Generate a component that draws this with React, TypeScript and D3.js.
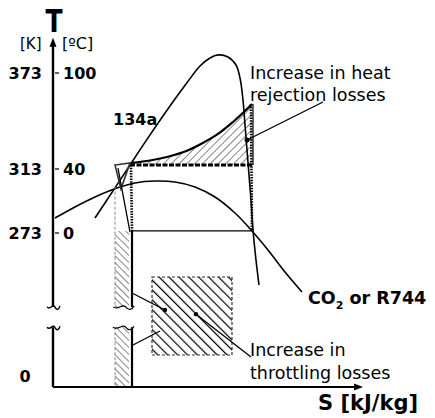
import React from "react";
import * as d3 from "d3";

const W = 435;
const H = 418;

// Temperature ticks (Kelvin on the left, Celsius on the right)
const tickK = [373, 313, 273];
const tickC = ["100", "40", "0"];
const axisTopT = 395;
const axisMaxS = 310;
const breakLowT = 106;
const breakHighT = 142;

// R134a saturation dome (entropy in arbitrary units, T in K)
const r134aS = [42, 60, 77, 97, 117, 133, 147, 157, 165, 175, 183, 187, 190, 192, 194, 196, 198, 200, 203, 206];
const r134aT = [282.4, 299.3, 315.5, 334.3, 352.4, 366.1, 377.4, 382.4, 384.3, 383, 378, 369.9, 356.1, 340.5, 324.9, 309.3, 293.6, 274.9, 225.1, 180.8];

// CO2 (R744) saturation dome
const co2S = [2, 22, 42, 64, 82, 102, 122, 142, 162, 182, 199, 215, 232, 249];
const co2T = [282.4, 289.3, 295.5, 301.1, 304.3, 305.5, 304.9, 301.8, 295.5, 285.5, 274.3, 242.9, 203.9, 168.4];

// Heat-rejection loss area (upper boundary)
const heatS = [79, 97, 114, 132, 147, 165, 180, 192, 199];
const heatT = [316.8, 318.3, 320.5, 323.9, 328.3, 334.9, 342.4, 349.3, 353.6];
const condT = 315.5;
const condS = [77, 199];
const evapT = 274.3;
const evapS = [80, 199];

// Small throttling triangle near the condenser outlet
const triS = [62, 77, 68];
const triT = [315.5, 316.8, 300.6];
const throttleLineS = [65, 77];
const throttleLineT = [313.6, 273.6];

// Narrow throttling-loss strip and its enlarged square
const stripS = [62, 76];
const stripEdgeS = 79;
const stripT = [0, 274.3];
const stripGuideT = [302, 274.3];
const squareS = [99, 179];
const squareT = [56.7, 195];

// Leader lines [s1, T1, s2, T2]
const leaderHeat = [270, 354.9, 194, 331.1];
const leaderA = [79, 166.6, 112, 136.5];
const leaderB = [198, 53.2, 143, 129.1];
const leaderC = [80, 74.5, 107, 99.3];

const x = d3.scaleLinear().domain([0, axisMaxS]).range([53, 363]);
const y = d3.scaleLinear().domain([0, 273, 373]).range([387, 233, 73]);

const curve = (s: number[], t: number[]) =>
  d3
    .line<number>()
    .x((i) => x(s[i]))
    .y((i) => y(t[i]))
    .curve(d3.curveCatmullRom.alpha(0.5))(s.map((_, i) => i)) || "";

const FONT = "'DejaVu Sans', Verdana, sans-serif";

function wave(x0: number, x1: number, yy: number) {
  const w = x1 - x0;
  return `M${x0},${yy} C${x0 + w * 0.25},${yy + 4} ${x0 + w * 0.45},${yy - 4} ${x0 + w * 0.6},${yy} S${x0 + w * 0.9},${yy + 3} ${x1},${yy - 1}`;
}

export default function App() {
  const yBreakTop = y(breakHighT);
  const yBreakBot = y(breakLowT);
  const lastHeat = heatS.length - 1;

  const heatPath =
    curve(heatS, heatT) +
    `L${x(heatS[lastHeat])},${y(condT)} L${x(heatS[0])},${y(condT)} Z`;

  const stripUpper = `M${x(stripS[0])},${y(stripT[1])} H${x(stripS[1])} V${yBreakTop} H${x(stripS[0])} Z`;
  const stripLower = `M${x(stripS[0])},${yBreakBot} H${x(stripS[1])} V${y(stripT[0])} H${x(stripS[0])} Z`;

  const ln = (a: number[]) => (
    <line x1={x(a[0])} y1={y(a[1])} x2={x(a[2])} y2={y(a[3])} stroke="#000" strokeWidth={1.3} />
  );

  return (
    <svg width={W} height={H} style={{ position: "absolute", left: 0, top: 0, background: "#fff" }} fontFamily={FONT}>
      <defs>
        <pattern id="hSquare" patternUnits="userSpaceOnUse" width="7" height="7" patternTransform="rotate(-45)">
          <line x1="0" y1="0" x2="0" y2="7" stroke="#000" strokeWidth="2.4" />
        </pattern>
        <pattern id="hStrip" patternUnits="userSpaceOnUse" width="5" height="5" patternTransform="rotate(-45)">
          <line x1="0" y1="0" x2="0" y2="5" stroke="#333" strokeWidth="1.2" />
        </pattern>
        <pattern id="hHeat" patternUnits="userSpaceOnUse" width="5.5" height="5.5" patternTransform="rotate(45)">
          <line x1="0" y1="0" x2="0" y2="5.5" stroke="#111" strokeWidth="1" />
        </pattern>
      </defs>
      <rect width={W} height={H} fill="#fff" />

      {/* heat rejection loss area */}
      <path d={heatPath} fill="url(#hHeat)" stroke="none" />
      <path d={curve(heatS, heatT)} fill="none" stroke="#000" strokeWidth={2.2} />
      <line x1={x(heatS[lastHeat]) + 1} y1={y(heatT[lastHeat])} x2={x(heatS[lastHeat]) + 1} y2={y(condT)} stroke="#000" strokeWidth={1.2} />

      {/* domes */}
      <path d={curve(r134aS, r134aT)} fill="none" stroke="#000" strokeWidth={1.6} />
      <path d={curve(co2S, co2T)} fill="none" stroke="#000" strokeWidth={1.6} />

      {/* condensation line */}
      <line x1={x(condS[0])} y1={y(condT)} x2={x(condS[1])} y2={y(condT)} stroke="#000" strokeWidth={3} strokeDasharray="5,1.5" />
      {/* evaporation line */}
      <line x1={x(evapS[0])} y1={y(evapT)} x2={x(evapS[1])} y2={y(evapT)} stroke="#000" strokeWidth={1.4} />
      {/* dotted verticals */}
      <line x1={x(stripEdgeS - 1)} y1={y(condT)} x2={x(stripEdgeS)} y2={y(evapT)} stroke="#000" strokeWidth={2.6} strokeDasharray="1.5,1.2" />
      <line x1={x(heatS[lastHeat] - 1)} y1={y(heatT[lastHeat])} x2={x(heatS[lastHeat])} y2={y(evapT)} stroke="#000" strokeWidth={2.6} strokeDasharray="1.5,1.2" />

      {/* throttling triangle */}
      <path
        d={`M${x(triS[0])},${y(triT[0])} L${x(triS[1])},${y(triT[1])} L${x(triS[2])},${y(triT[2])} Z`}
        fill="none"
        stroke="#333"
        strokeWidth={1.6}
      />
      <line x1={x(throttleLineS[0])} y1={y(throttleLineT[0])} x2={x(throttleLineS[1])} y2={y(throttleLineT[1])} stroke="#000" strokeWidth={1.3} />

      {/* narrow strip */}
      <line x1={x(stripS[0])} y1={y(stripGuideT[0])} x2={x(stripS[0])} y2={yBreakTop} stroke="#888" strokeWidth={1} strokeDasharray="3,2" />
      <line x1={x(stripS[0])} y1={yBreakBot} x2={x(stripS[0])} y2={y(0)} stroke="#888" strokeWidth={1} strokeDasharray="3,2" />
      <path d={stripUpper} fill="url(#hStrip)" />
      <path d={stripLower} fill="url(#hStrip)" />
      <line x1={x(stripEdgeS)} y1={y(stripT[1])} x2={x(stripEdgeS)} y2={yBreakTop} stroke="#000" strokeWidth={2.2} />
      <line x1={x(stripEdgeS)} y1={yBreakBot} x2={x(stripEdgeS)} y2={y(0)} stroke="#000" strokeWidth={2.2} />
      <path d={wave(x(stripS[0]) - 2, x(stripEdgeS) + 2, yBreakTop)} fill="none" stroke="#000" strokeWidth={1.2} />
      <path d={wave(x(stripS[0]) - 2, x(stripEdgeS) + 2, yBreakBot)} fill="none" stroke="#000" strokeWidth={1.2} />

      {/* enlarged square */}
      <rect
        x={x(squareS[0])}
        y={y(squareT[1])}
        width={x(squareS[1]) - x(squareS[0])}
        height={y(squareT[0]) - y(squareT[1])}
        fill="url(#hSquare)"
        stroke="#333"
        strokeWidth={1.2}
        strokeDasharray="3,2"
      />

      {/* leaders */}
      {ln(leaderHeat)}
      <circle cx={x(leaderHeat[2])} cy={y(leaderHeat[3])} r={2.5} fill="#000" />
      {ln(leaderA)}
      <circle cx={x(leaderA[2])} cy={y(leaderA[3])} r={2.2} fill="#000" />
      {ln(leaderB)}
      <circle cx={x(leaderB[2])} cy={y(leaderB[3])} r={2.2} fill="#000" />
      {ln(leaderC)}

      {/* axes */}
      <line x1={x(0)} y1={y(axisTopT) + 6} x2={x(0)} y2={yBreakTop} stroke="#000" strokeWidth={2.4} />
      <line x1={x(0)} y1={yBreakBot} x2={x(0)} y2={y(0)} stroke="#000" strokeWidth={2.4} />
      <path d={`M${x(0)},${y(axisTopT)} l-3.5,9 h7 Z`} fill="#000" />
      <path d={wave(x(0) - 6, x(0) + 7, yBreakTop)} fill="none" stroke="#000" strokeWidth={1.4} />
      <path d={wave(x(0) - 6, x(0) + 7, yBreakBot)} fill="none" stroke="#000" strokeWidth={1.4} />
      <line x1={x(0)} y1={y(0)} x2={x(axisMaxS) - 7} y2={y(0)} stroke="#000" strokeWidth={2} />
      <path d={`M${x(axisMaxS)},${y(0)} l-9,-3.5 v7 Z`} fill="#000" />

      {/* ticks */}
      {tickK.map((k, i) => (
        <g key={k}>
          <line x1={x(0) + 2} x2={x(0) + 6} y1={y(k)} y2={y(k)} stroke="#000" strokeWidth={1.2} />
          <text x={42} y={y(k) + 6} textAnchor="end" fontSize={16} fontWeight="bold">
            {k}
          </text>
          <text x={63} y={y(k) + 6} fontSize={16} fontWeight="bold">
            {tickC[i]}
          </text>
        </g>
      ))}
      <text x={25} y={y(0) - 5} textAnchor="middle" fontSize={16} fontWeight="bold">
        0
      </text>

      {/* axis titles */}
      <text transform={`translate(${x(0) + 1},32) scale(1,1.3)`} textAnchor="middle" fontSize={25} fontWeight="bold">
        T
      </text>
      <text x={20} y={49} fontSize={15}>[K]</text>
      <text x={62} y={49} fontSize={16}>[ºC]</text>
      <text x={318} y={410} fontSize={21} fontWeight="bold">
        S [kJ/kg]
      </text>

      {/* labels */}
      <text x={113} y={125} fontSize={16} fontWeight="bold">134a</text>
      <text x={250} y={79} fontSize={17.5}>Increase in heat</text>
      <text x={250} y={101} fontSize={17.5}>rejection losses</text>
      <text x={308} y={304} fontSize={17.5} fontWeight="bold">
        CO<tspan fontSize={11} dy={5}>2</tspan>
        <tspan dy={-5}> or R744</tspan>
      </text>
      <text x={250} y={356} fontSize={17.5}>Increase in</text>
      <text x={250} y={379} fontSize={17.5}>throttling losses</text>
    </svg>
  );
}
